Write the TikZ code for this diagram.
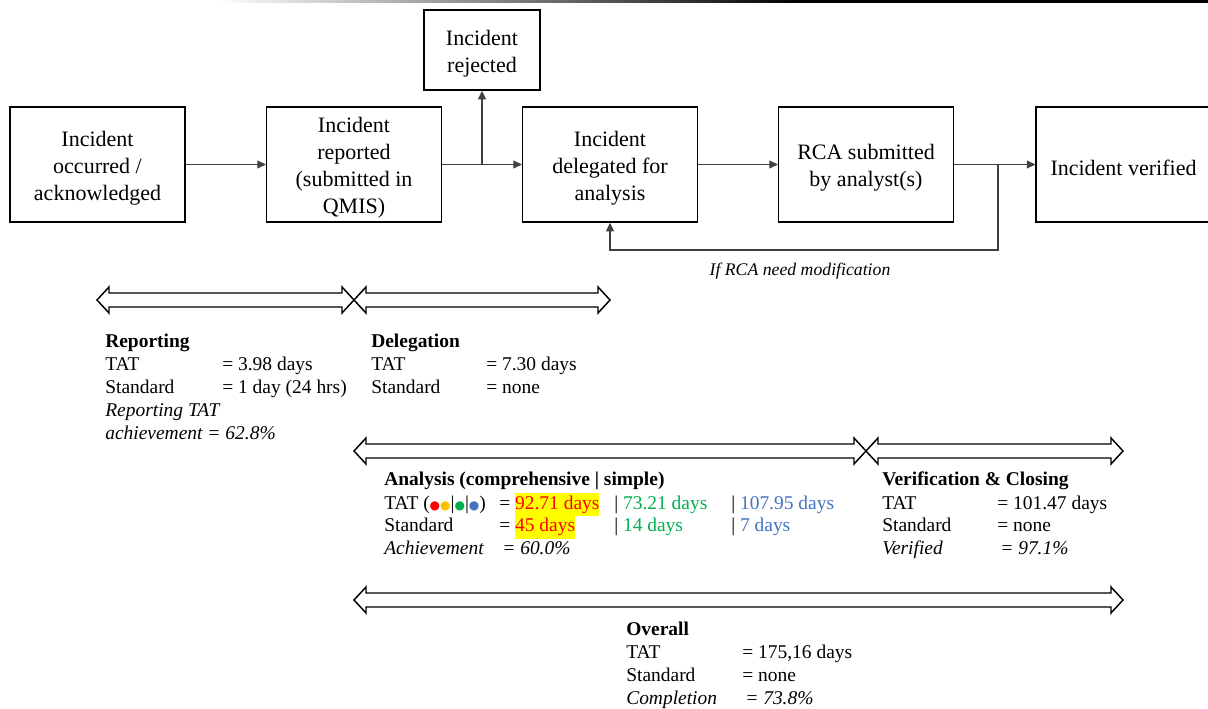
\documentclass[tikz,border=0pt]{standalone}
\usepackage{fontspec}
\setmainfont{Liberation Serif}
\newfontfamily\dejavu{DejaVu Sans}
\usetikzlibrary{arrows.meta,calc}
\definecolor{cgreen}{HTML}{00B050}
\definecolor{cblue}{HTML}{4472C4}
\definecolor{corange}{HTML}{FFC000}
\definecolor{hl}{HTML}{FFFF00}
\newcommand\hlbox[1]{{\setlength{\fboxsep}{0pt}\colorbox{hl}{\strut #1}}}
\newcommand\dotc[1]{{\dejavu\fontsize{9}{9}\selectfont\textcolor{#1}{●}}}
\newcommand\boxfont{\fontsize{16.5}{20.25}\selectfont}
\newcommand\lowfont{\fontsize{14.6}{17.25}\selectfont}
\newcommand\dblarrow[3]{\draw[dbl] (#1,#3) -- ({#1+12},{#3-13}) -- ({#1+12},{#3-7}) -- ({#2-12},{#3-7}) -- ({#2-12},{#3-13}) -- (#2,#3) -- ({#2-12},{#3+13}) -- ({#2-12},{#3+7}) -- ({#1+12},{#3+7}) -- ({#1+12},{#3+13}) -- cycle;}
\begin{document}
\begin{tikzpicture}[x=0.75pt,y=-0.75pt,
  box/.style={draw, line width=1.1pt, minimum width=131pt, minimum height=86.25pt, inner sep=0pt},
  btext/.style={align=center, font=\boxfont, inner sep=0pt},
  conn/.style={draw=black!75, line width=0.8pt, -{Triangle[length=6.5pt,width=6pt]}},
  dbl/.style={draw, line width=1.1pt, fill=white, line join=miter},
  t/.style={anchor=base west, inner sep=0pt, font=\lowfont},
  tb/.style={t, font=\lowfont\bfseries},
  ti/.style={t, font=\lowfont\itshape}]
\useasboundingbox (0,0) rectangle (1208,709);
% top line
\shade[left color=white, right color=black] (215,0) rectangle (800,3);
\fill[black] (799,0) rectangle (1208,3);
% boxes
\node[box] (b1) at (97.5,164.5) {};
\node[box] (b2) at (354,164.5) {};
\node[box] (b3) at (610,164.5) {};
\node[box] (b4) at (866,164.5) {};
\node[box] (b5) at (1123.5,164.5) {};
\node[box, minimum width=87pt, minimum height=60pt] (rej) at (482,50) {};
\node[btext] (b1t) at (97.5,168) {Incident\\occurred /\\acknowledged};
\node[btext] (b2t) at (354,168) {Incident\\reported\\(submitted in\\QMIS)};
\node[btext] (b3t) at (610,168) {Incident\\delegated for\\analysis};
\node[btext] (b4t) at (866,168) {RCA submitted\\by analyst(s)};
\node[btext] (b5t) at (1123.5,168) {Incident verified};
\node[btext] (rejt) at (482,53.5) {Incident\\rejected};
% connectors
\draw[conn] (b1.east) -- (b2.west);
\draw[conn] (b2.east) -- (b3.west);
\draw[conn] (b2.east) -| (rej.south);
\draw[conn] (b3.east) -- (b4.west);
\draw[conn] (b4.east) -- (b5.west);
\coordinate (fbtop) at (998,164.5);
\coordinate (fb) at (998,250);
\draw[conn] (fbtop) -- (fb) -| (b3.south);
\node[font=\fontsize{13.3}{16}\selectfont\itshape, inner sep=0pt] (fbl) at (800,271) {If RCA need modification};
% double arrows
\dblarrow{97}{354}{300}
\dblarrow{354}{610}{300}
\dblarrow{354}{866}{451}
\dblarrow{866}{1123}{451}
\dblarrow{354}{1123}{600}
% Reporting
\node[tb] (r0) at (105,348) {Reporting};
\node[t] (r1) at (105,371) {TAT};
\node[t] (r1v) at (222,371) {= 3.98 days};
\node[t] (r2) at (105,394) {Standard};
\node[t] (r2v) at (222,394) {= 1 day (24 hrs)};
\node[ti] (r3) at (105,417) {Reporting TAT};
\node[ti] (r4) at (105,440) {achievement = 62.8\%};
% Delegation
\node[tb] (d0) at (371,348) {Delegation};
\node[t] (d1) at (371,371) {TAT};
\node[t] (d1v) at (486,371) {= 7.30 days};
\node[t] (d2) at (371,394) {Standard};
\node[t] (d2v) at (486,394) {= none};
% Analysis
\node[tb] (a0) at (384,486) {Analysis (comprehensive | simple)};
\node[t] (a1) at (384,509) {TAT (\dotc{red}\dotc{corange}|\dotc{cgreen}|\dotc{cblue})};
\node[t] (a1v) at (499,509) {= \textcolor{red}{\hlbox{92.71 days}}};
\node[t] (a1g) at (614,509) {| \textcolor{cgreen}{73.21 days}};
\node[t] (a1b) at (731,509) {| \textcolor{cblue}{107.95 days}};
\node[t] (a2) at (384,532) {Standard};
\node[t] (a2v) at (499,532) {= \textcolor{red}{\hlbox{45 days}}};
\node[t] (a2g) at (614,532) {| \textcolor{cgreen}{14 days}};
\node[t] (a2b) at (731,532) {| \textcolor{cblue}{7 days}};
\node[ti] (a3) at (384,555) {Achievement};
\node[ti] (a3v) at (502,555) {= 60.0\%};
% Verification
\node[tb] (v0) at (882,486) {Verification \& Closing};
\node[t] (v1) at (882,509) {TAT};
\node[t] (v1v) at (997,509) {= 101.47 days};
\node[t] (v2) at (882,532) {Standard};
\node[t] (v2v) at (997,532) {= none};
\node[ti] (v3) at (882,555) {Verified};
\node[ti] (v3v) at (1000,555) {= 97.1\%};
% Overall
\node[tb] (o0) at (626,635) {Overall};
\node[t] (o1) at (626,658) {TAT};
\node[t] (o1v) at (742,658) {= 175,16 days};
\node[t] (o2) at (626,681) {Standard};
\node[t] (o2v) at (742,681) {= none};
\node[ti] (o3) at (626,704) {Completion};
\node[ti] (o3v) at (745,704) {= 73.8\%};
\end{tikzpicture}
\end{document}
